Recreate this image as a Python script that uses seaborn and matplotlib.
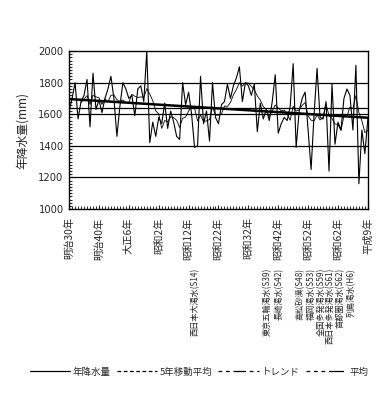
import numpy as np
import pandas as pd
import matplotlib
matplotlib.use('Agg')
import matplotlib.pyplot as plt
import matplotlib.transforms as mtransforms
from matplotlib.lines import Line2D
from matplotlib.ticker import MultipleLocator
import seaborn as sns

# 年降水量 (mm), 1897(明治30年) - 1997(平成9年)
years = list(range(1897, 1998))
rain = [1620, 1700, 1800, 1570, 1680, 1720, 1820, 1520, 1860, 1630,
        1690, 1610, 1700, 1760, 1840, 1700, 1460, 1650, 1800, 1760,
        1700, 1720, 1590, 1760, 1780, 1680, 2000, 1420, 1550, 1460,
        1580, 1540, 1670, 1510, 1620, 1550, 1460, 1440, 1800, 1660,
        1740, 1600, 1390, 1400, 1840, 1540, 1620, 1430, 1800, 1580,
        1540, 1660, 1680, 1790, 1700, 1780, 1830, 1900, 1680, 1800,
        1780, 1720, 1790, 1490, 1670, 1570, 1630, 1560, 1680, 1850,
        1480, 1540, 1580, 1560, 1650, 1920, 1390, 1620, 1700, 1740,
        1500, 1250, 1600, 1890, 1580, 1570, 1680, 1240, 1790, 1410,
        1550, 1500, 1700, 1760, 1720, 1500, 1910, 1160, 1500, 1350,
        1570]

era_ticks = [1897, 1907, 1917, 1927, 1937, 1947, 1957, 1967, 1977, 1987, 1997]
era_labels = ['明治30年', '明治40年', '大正6年', '昭和2年', '昭和12年', '昭和22年',
              '昭和32年', '昭和42年', '昭和52年', '昭和62年', '平成9年']

event_labels = ['西日本大渇水(S14)', '東京五輪渇水(S39)', '長崎渇水(S42)',
                '高松砂漠(S48)', '福岡渇水(S53)', '全国多発渇水(S59)',
                '西日本多発渇水(S61)', '首都圏渇水(S62)', '列島渇水(H6)']
event_x = [1939.3, 1963.3, 1967.3, 1974.3, 1978.0, 1981.3, 1984.5, 1987.7, 1991.5]

df = pd.DataFrame({'year': years, 'rain': rain})
df['ma5'] = df['rain'].rolling(5).mean()
coef = np.polyfit(df['year'], df['rain'], 1)
df['trend'] = np.polyval(coef, df['year'])
df['mean'] = df['rain'].mean()

sns.set_style('white')
plt.rcParams['font.family'] = ['Noto Sans CJK JP', 'DejaVu Sans']

fig = plt.figure(figsize=(3.86, 4.15), dpi=100)
ax = fig.add_axes([0.179, 0.4964, 0.774, 0.3806])

# 目盛線
for v in [1200, 1400, 1600, 1800]:
    ax.axhline(v, color='black', lw=0.9, zorder=1)

sns.lineplot(data=df, x='year', y='rain', ax=ax, color='black', lw=0.8, zorder=3)
sns.lineplot(data=df, x='year', y='ma5', ax=ax, color='black', lw=0.6, zorder=3)
sns.lineplot(data=df, x='year', y='trend', ax=ax, color='black', lw=1.8, zorder=4)
sns.lineplot(data=df, x='year', y='mean', ax=ax, color='black', lw=0.9, zorder=4)

ax.set_xlim(1897, 1997)
ax.set_ylim(1000, 2000)
ax.set_yticks(range(1000, 2001, 200))
ax.yaxis.set_minor_locator(MultipleLocator(20))
ax.xaxis.set_minor_locator(MultipleLocator(1))
ax.set_xticks(era_ticks)
ax.set_xticklabels(era_labels, rotation=90, va='top', ha='center', fontsize=7.4)
ax.tick_params(axis='x', which='major', direction='in', length=3, pad=6)
ax.tick_params(axis='x', which='minor', direction='in', length=2.5, width=0.7)
ax.tick_params(axis='y', which='major', direction='in', length=3, labelsize=7.2, pad=4)
ax.tick_params(axis='y', which='minor', direction='in', length=2.5, width=0.8)
ax.tick_params(left=True, bottom=True, which='both')
for lab in ax.get_yticklabels():
    lab.set_family('DejaVu Sans')
ax.set_xlabel('')
ax.set_ylabel('年降水量(mm)', fontsize=8.5, labelpad=7)
for s in ax.spines.values():
    s.set_color('black')
    s.set_linewidth(1.0)

# 渇水の注記
trans = mtransforms.blended_transform_factory(ax.transData, ax.transAxes)
for xv, txt in zip(event_x, event_labels):
    ax.text(xv, -0.373, txt, transform=trans, rotation=90, ha='center', va='top',
            fontsize=5.9, clip_on=False)

handles = [
    Line2D([], [], color='black', lw=0.9),
    Line2D([], [], color='black', lw=0.9, linestyle=(0, (3, 2))),
    Line2D([], [], color='black', lw=0.9, linestyle=(0, (3, 3, 3, 3, 10, 3))),
    Line2D([], [], color='black', lw=0.9, linestyle=(0, (3, 3, 3, 3, 3, 3, 12, 3))),
]
fig.legend(handles, ['年降水量', '5年移動平均', 'トレンド', '平均'],
           loc='center', bbox_to_anchor=(0.515, 0.104), ncol=4, frameon=False,
           fontsize=6.8, handlelength=4.3, handletextpad=0.3, columnspacing=0.6)

fig.savefig('out.png', dpi=100)
